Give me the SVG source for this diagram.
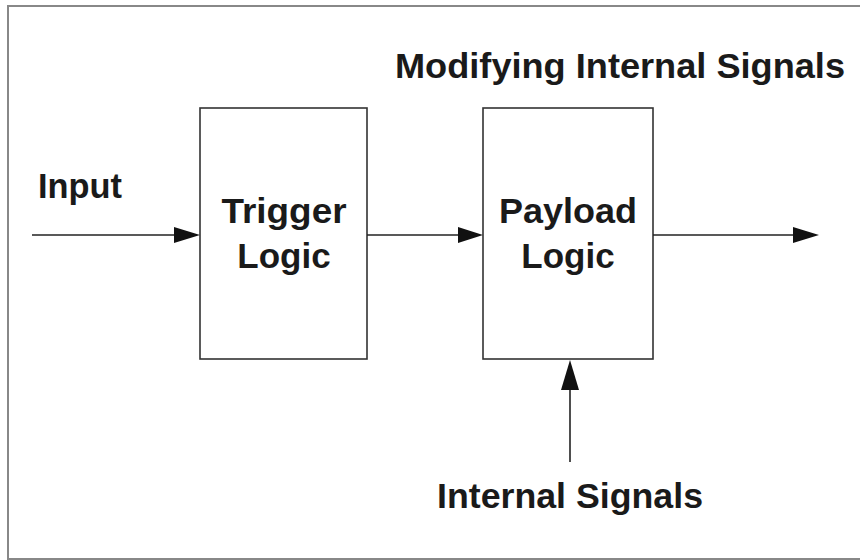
<svg xmlns="http://www.w3.org/2000/svg" width="860" height="560" viewBox="0 0 860 560">
<style>
.t{font-family:"Liberation Sans",Arial,sans-serif;font-weight:bold;fill:#1a1a1a;font-size:35px}
.box{fill:#fff;stroke:#333;stroke-width:1.6}
.ln{stroke:#222;stroke-width:1.6;fill:none}
.hd{fill:#111}
</style>
<rect width="860" height="560" fill="#fff"/>
<rect x="8" y="6" width="862" height="553" fill="none" stroke="#888" stroke-width="2"/>
<g id="trigger">
<rect class="box" x="200" y="108" width="167" height="251"/>
<text class="t" x="284" y="223" text-anchor="middle" textLength="125" lengthAdjust="spacingAndGlyphs">Trigger</text>
<text class="t" x="284" y="268" text-anchor="middle">Logic</text>
</g>
<g id="payload">
<rect class="box" x="483" y="108" width="170" height="251"/>
<text class="t" x="568" y="223" text-anchor="middle" textLength="138" lengthAdjust="spacingAndGlyphs">Payload</text>
<text class="t" x="568" y="268" text-anchor="middle">Logic</text>
</g>
<g id="labels">
<text class="t" x="395" y="78" textLength="450" lengthAdjust="spacingAndGlyphs">Modifying Internal Signals</text>
<text class="t" x="38" y="198" font-size="34" textLength="84" lengthAdjust="spacingAndGlyphs">Input</text>
<text class="t" x="437" y="508" textLength="266" lengthAdjust="spacingAndGlyphs">Internal Signals</text>
</g>
<g id="connectors">
<line class="ln" x1="32" y1="235" x2="176" y2="235"/>
<polygon class="hd" points="174,227 200,235 174,243"/>
<line class="ln" x1="367" y1="235" x2="460" y2="235"/>
<polygon class="hd" points="458,227 483,235 458,243"/>
<line class="ln" x1="653" y1="235" x2="796" y2="235"/>
<polygon class="hd" points="793,227 819,235 793,243"/>
<line class="ln" x1="570" y1="462" x2="570" y2="388" stroke="#555"/>
<polygon class="hd" points="561,390 570,360 579,390"/>
</g>
</svg>
